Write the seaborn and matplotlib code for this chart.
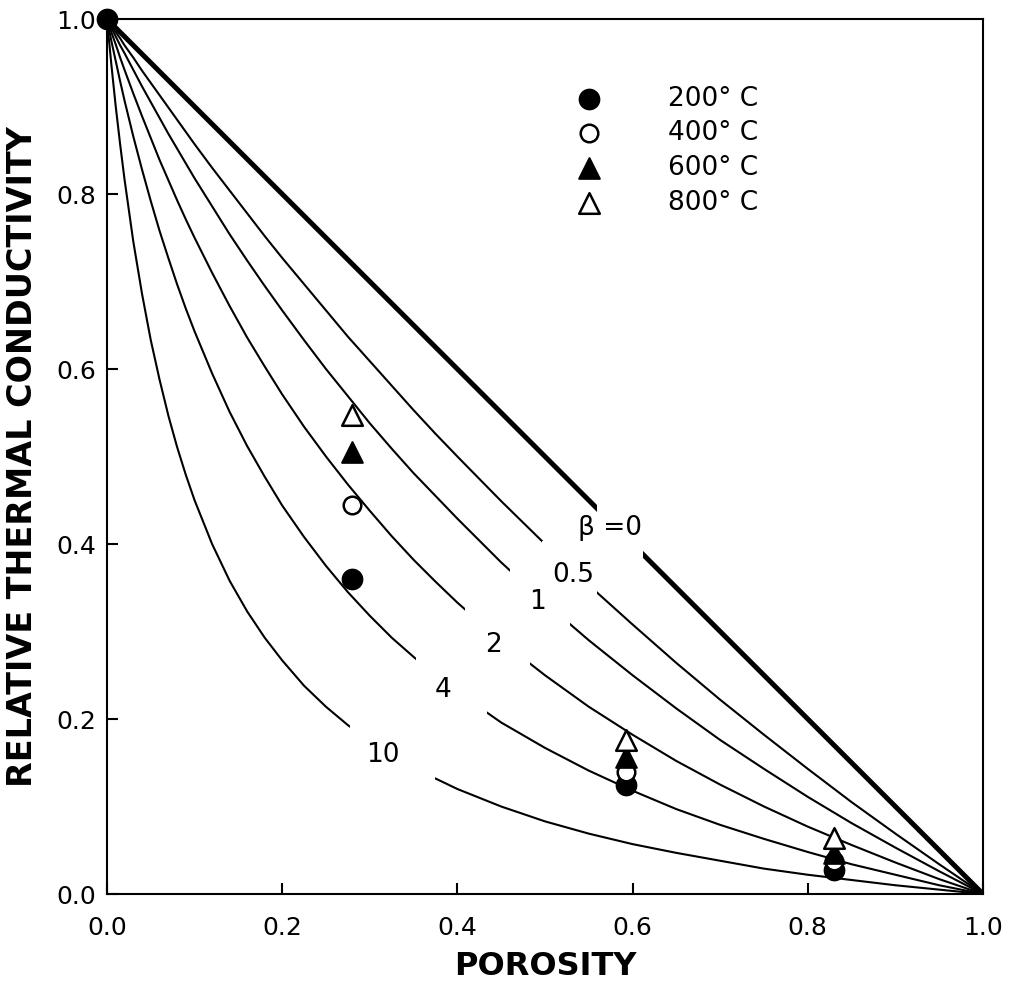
import matplotlib
matplotlib.use("Agg")
import matplotlib.pyplot as plt
from matplotlib.patches import Rectangle
import pandas as pd
import seaborn as sns

# ---- model curves: relative conductivity vs porosity for each beta ----
porosity = [0.000, 0.005, 0.010, 0.015, 0.020, 0.030, 0.040, 0.050, 0.060, 0.070,
            0.080, 0.090, 0.100, 0.120, 0.140, 0.160, 0.180, 0.200, 0.225, 0.250,
            0.275, 0.300, 0.325, 0.350, 0.375, 0.400, 0.450, 0.500, 0.550, 0.600,
            0.650, 0.700, 0.750, 0.800, 0.850, 0.900, 0.950, 1.000]

k_beta_0 = [1.000, 0.995, 0.990, 0.985, 0.980, 0.970, 0.960, 0.950, 0.940, 0.930,
            0.920, 0.910, 0.900, 0.880, 0.860, 0.840, 0.820, 0.800, 0.775, 0.750,
            0.725, 0.700, 0.675, 0.650, 0.625, 0.600, 0.550, 0.500, 0.450, 0.400,
            0.350, 0.300, 0.250, 0.200, 0.150, 0.100, 0.050, 0.000]
k_beta_05 = [1.000, 0.993, 0.985, 0.978, 0.970, 0.956, 0.941, 0.927, 0.913, 0.899,
             0.885, 0.871, 0.857, 0.830, 0.804, 0.778, 0.752, 0.727, 0.697, 0.667,
             0.637, 0.609, 0.581, 0.553, 0.526, 0.500, 0.449, 0.400, 0.353, 0.308,
             0.264, 0.222, 0.182, 0.143, 0.105, 0.069, 0.034, 0.000]
k_beta_1 = [1.000, 0.990, 0.980, 0.970, 0.961, 0.942, 0.923, 0.905, 0.887, 0.869,
            0.852, 0.835, 0.818, 0.786, 0.754, 0.724, 0.695, 0.667, 0.633, 0.600,
            0.569, 0.538, 0.509, 0.481, 0.455, 0.429, 0.379, 0.333, 0.290, 0.250,
            0.212, 0.176, 0.143, 0.111, 0.081, 0.053, 0.026, 0.000]
k_beta_2 = [1.000, 0.985, 0.971, 0.956, 0.942, 0.915, 0.889, 0.864, 0.839, 0.816,
            0.793, 0.771, 0.750, 0.710, 0.672, 0.636, 0.603, 0.571, 0.534, 0.500,
            0.468, 0.438, 0.409, 0.382, 0.357, 0.333, 0.289, 0.250, 0.214, 0.182,
            0.152, 0.125, 0.100, 0.077, 0.056, 0.036, 0.017, 0.000]
k_beta_4 = [1.000, 0.975, 0.952, 0.929, 0.907, 0.866, 0.828, 0.792, 0.758, 0.727,
            0.697, 0.669, 0.643, 0.595, 0.551, 0.512, 0.477, 0.444, 0.408, 0.375,
            0.345, 0.318, 0.293, 0.271, 0.250, 0.231, 0.196, 0.167, 0.141, 0.118,
            0.097, 0.079, 0.063, 0.048, 0.034, 0.022, 0.010, 0.000]
k_beta_10 = [1.000, 0.948, 0.900, 0.857, 0.817, 0.746, 0.686, 0.633, 0.588, 0.547,
             0.511, 0.479, 0.450, 0.400, 0.358, 0.323, 0.293, 0.267, 0.238, 0.214,
             0.193, 0.175, 0.159, 0.144, 0.132, 0.120, 0.100, 0.083, 0.069, 0.057,
             0.047, 0.038, 0.029, 0.022, 0.016, 0.010, 0.005, 0.000]

beta_values = ["0", "0.5", "1", "2", "4", "10"]
beta_curves = [k_beta_0, k_beta_05, k_beta_1, k_beta_2, k_beta_4, k_beta_10]
beta_labels = ["\u03b2 =0", "0.5", "1", "2", "4", "10"]

# ---- measured samples ----
temp_labels = ["200\u00b0 C", "400\u00b0 C", "600\u00b0 C", "800\u00b0 C"]
p_200 = [0.000, 0.280, 0.593, 0.830]
k_200 = [1.000, 0.360, 0.125, 0.028]
p_400 = [0.280, 0.593, 0.830]
k_400 = [0.445, 0.140, 0.038]
p_600 = [0.280, 0.593, 0.830]
k_600 = [0.505, 0.157, 0.047]
p_800 = [0.280, 0.593, 0.830]
k_800 = [0.548, 0.176, 0.064]

x_ticks = [0.0, 0.2, 0.4, 0.6, 0.8, 1.0]
y_ticks = [0.0, 0.2, 0.4, 0.6, 0.8, 1.0]
tick_labels = ["0.0", "0.2", "0.4", "0.6", "0.8", "1.0"]

curves = pd.DataFrame({
    "porosity": porosity * len(beta_values),
    "k": [v for c in beta_curves for v in c],
    "beta": [b for b in beta_values for _ in porosity],
})

sns.set_style("ticks")
plt.rcParams["font.family"] = ["DejaVu Sans"]
plt.rcParams.update({"text.color": "black", "axes.labelcolor": "black",
                     "xtick.color": "black", "ytick.color": "black",
                     "lines.solid_joinstyle": "round"})

fig = plt.figure(figsize=(10.13, 9.86), dpi=100)
ax = fig.add_axes([0.1056, 0.0933, 0.8648, 0.8874])

for b in beta_values:
    sub = curves[curves["beta"] == b]
    sns.lineplot(data=sub, x="porosity", y="k", color="black",
                 linewidth=3.6 if b == "0" else 1.5, estimator=None,
                 sort=False, legend=False, ax=ax, zorder=2)

# breaks in the curves where the beta labels sit: (p0, p1, k_low, k_high)
label_breaks = [
    (0.559, 0.612, 0.377, 0.452),
    (0.497, 0.559, 0.326, 0.403),
    (0.460, 0.529, 0.292, 0.371),
    (0.409, 0.483, 0.253, 0.335),
    (0.353, 0.434, 0.190, 0.278),
    (0.277, 0.374, 0.120, 0.202),
]
label_pos = [(0.574, 0.418), (0.532, 0.365), (0.491, 0.334),
             (0.441, 0.285), (0.384, 0.233), (0.315, 0.159)]

for (p0, p1, k0, k1), (lx, ly), txt in zip(label_breaks, label_pos, beta_labels):
    ax.add_patch(Rectangle((p0, k0), p1 - p0, k1 - k0, facecolor="white",
                           edgecolor="none", zorder=2.5))
    ax.text(lx, ly, txt, fontsize=19, ha="center", va="center", zorder=5)

msize = 200
sns.scatterplot(x=p_200, y=k_200, marker="o", s=msize, color="black",
                edgecolor="black", linewidth=1.5, label=temp_labels[0],
                ax=ax, zorder=4, clip_on=False)
sns.scatterplot(x=p_400, y=k_400, marker="o", s=msize * 0.8, color="white",
                edgecolor="black", linewidth=1.8, label=temp_labels[1],
                ax=ax, zorder=4)
sns.scatterplot(x=p_600, y=k_600, marker="^", s=msize * 1.1, color="black",
                edgecolor="black", linewidth=1.5, label=temp_labels[2],
                ax=ax, zorder=4)
sns.scatterplot(x=p_800, y=k_800, marker="^", s=msize * 1.1, color="white",
                edgecolor="black", linewidth=1.8, label=temp_labels[3],
                ax=ax, zorder=4)

ax.legend(loc="upper left", bbox_to_anchor=(0.535, 0.924), frameon=False,
          fontsize=19, handlelength=1.0, handletextpad=2.5,
          labelspacing=0.33, borderpad=0, borderaxespad=0)

ax.set_xlim(0, 1)
ax.set_ylim(0, 1)
ax.set_xticks(x_ticks)
ax.set_xticklabels(tick_labels)
ax.set_yticks(y_ticks)
ax.set_yticklabels(tick_labels)
ax.tick_params(axis="both", direction="in", length=8, width=1.5,
               labelsize=18)
ax.tick_params(axis="x", pad=16)
ax.tick_params(axis="y", pad=8)
for sp in ax.spines.values():
    sp.set_visible(True)
    sp.set_linewidth(1.5)
    sp.set_color("black")

ax.set_xlabel("POROSITY", fontsize=23, fontweight="bold", labelpad=8)
ax.set_ylabel("RELATIVE THERMAL CONDUCTIVITY", fontsize=24,
              fontweight="bold", labelpad=12)

fig.savefig("out.png", dpi=100, facecolor="white")
